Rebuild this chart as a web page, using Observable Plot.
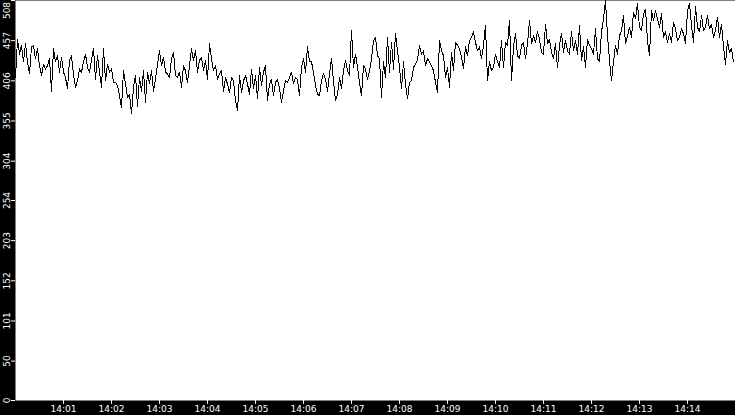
<!DOCTYPE html>
<html>
<head>
<meta charset="utf-8">
<script src="https://cdn.jsdelivr.net/npm/d3@7"></script>
<script src="https://cdn.jsdelivr.net/npm/@observablehq/plot@0.6"></script>
<style>
  html, body { margin: 0; padding: 0; background: #000; }
  #chart svg { display: block; }
</style>
</head>
<body>
<div id="chart"></div>
<script>
// Sampled readings, one every 2.5 s starting at 14:00:00
const startTime = Date.UTC(2024, 0, 1, 14, 0, 0);
const stepMs = 2500;

const values1 = [410,459,440,451,430,453,430,415,449,451,434,447,425,413,427,421,425,434,393,447,430,438,417,436,417,410,396,432,438,413,398,406,421,417,430,440,423,417,432,447,408,438,417,398,447,406,427,417,421,404,404,400,387,372,419,402,385,389,364,398];
const values2 = [413,374,410,393,419,379,417,402,419,393,408,427,444,425,436,417,415,410,434,442,413,410,417,398,425,419,404,425,447,432,444,417,432,436,419,432,408,453,434,419,425,408,415,419,393,410,402,391,410,406,381,368,413,391,406,413,402,389,421,396];
const values3 = [413,383,423,400,417,425,381,402,408,387,404,408,396,379,393,406,404,410,417,402,410,408,387,423,434,417,449,430,430,417,400,389,387,406,415,408,393,415,434,406,381,389,410,396,419,432,419,413,470,423,440,423,404,387,425,421,408,419,434,457];
const values4 = [461,438,434,385,430,410,461,417,455,421,466,444,423,396,430,402,383,404,406,423,427,432,451,440,444,425,434,430,425,419,404,391,457,444,438,410,423,398,442,419,455,451,447,436,421,449,438,457,461,468,455,444,449,434,451,476,406,430,419,423];
const values5 = [440,430,423,457,423,455,451,483,406,449,466,438,434,451,455,434,453,483,453,463,455,468,459,442,440,478,453,459,442,434,453,423,451,466,442,457,444,440,468,444,457,440,476,432,449,423,459,451,447,440,472,434,430,468,485,508,463,432,406,430];
const values6 = [451,440,463,470,489,453,463,474,461,493,485,504,474,470,491,497,457,438,495,483,495,485,474,491,461,468,455,466,455,480,472,457,461,472,466,453,495,504,476,455,500,474,468,489,470,474,489,472,478,461,470,487,461,478,449,427,457,442,447,430];

const yTickLabels = [0, 50, 101, 152, 203, 254, 304, 355, 406, 457, 508];
const xTickLabels = ["14:01","14:02","14:03","14:04","14:05","14:06","14:07","14:08","14:09","14:10","14:11","14:12","14:13","14:14"];

const allValues = [...values1, ...values2, ...values3, ...values4, ...values5, ...values6];
const data = allValues.map((v, i) => ({ t: new Date(startTime + i * stepMs), v }));

const parseHM = s => { const [h, m] = s.split(":").map(Number); return new Date(Date.UTC(2024, 0, 1, h, m, 0)); };
const xTicks = xTickLabels.map(parseHM);
const fmt = d3.utcFormat("%H:%M");

const topTick = yTickLabels[yTickLabels.length - 1];
const otherTicks = yTickLabels.slice(0, -1);

const chart = Plot.plot({
  width: 735,
  height: 415,
  marginLeft: 15,
  marginRight: 0,
  marginTop: 0,
  marginBottom: 15,
  style: { background: "black", color: "white", fontFamily: "DejaVu Sans", fontSize: "9px" },
  x: { type: "utc", domain: [new Date(startTime), new Date(Date.UTC(2024, 0, 1, 14, 15, 0))], axis: null },
  y: { domain: [0, 508], axis: null },
  marks: [
    Plot.frame({ fill: "white", stroke: null }),
    Plot.line(data, { x: "t", y: "v", stroke: "black", strokeWidth: 1, shapeRendering: "crispEdges" }),
    Plot.axisX({ ticks: xTicks, tickSize: 4, tickPadding: 1, tickFormat: fmt, stroke: "white", fill: "white", fontSize: 9, label: null }),
    Plot.axisY({ ticks: yTickLabels, tickSize: 4, tickFormat: () => "", stroke: "white", label: null }),
    Plot.text(otherTicks, { y: d => d, text: d => String(d), frameAnchor: "left", dx: -8, rotate: -90, fill: "white", fontSize: 9, textAnchor: "middle" }),
    Plot.text([topTick], { y: d => d, text: d => String(d), frameAnchor: "left", dx: -8, dy: 10, rotate: -90, fill: "white", fontSize: 9, textAnchor: "middle" })
  ]
});
document.getElementById("chart").appendChild(chart);
</script>
</body>
</html>
